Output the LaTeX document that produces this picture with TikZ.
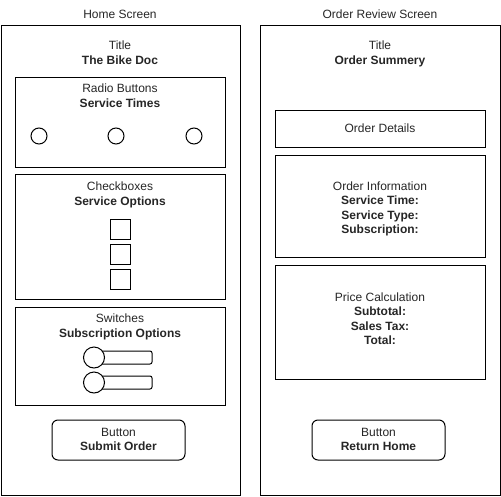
\documentclass[tikz,border=0pt]{standalone}
\usepackage{fontspec}
\setmainfont{Liberation Sans}
\begin{document}
\begin{tikzpicture}[x=1pt,y=-1pt,
  every node/.style={font=\fontsize{12}{14.5}\selectfont, inner sep=0pt, outer sep=0pt},
  screen/.style={draw=black, line width=1pt, minimum width=#1, minimum height=470pt},
  panel/.style={draw=black, line width=1pt, minimum width=210pt, minimum height=#1},
  lbl/.style={align=center, text=black!85},
  ml/.style={lbl, text depth=3pt, yshift=-1.5pt},
  btn/.style={draw=black, line width=1pt, rounded corners=6pt, minimum width=133pt, minimum height=40pt},
  radio/.style={draw=black, line width=1pt, circle, minimum size=16pt},
  chk/.style={draw=black, line width=1pt, minimum size=20pt},
  track/.style={draw=black, line width=1pt, rounded corners=2pt, minimum width=58pt, minimum height=13pt},
  knob/.style={draw=black, fill=white, line width=1pt, circle, minimum size=21pt}
]
\useasboundingbox (0,0) rectangle (501,496);
% screens
\node[screen=239pt] (home) at (120.5,260) {};
\node[screen=240pt] (review) at (380,260) {};
\node[lbl] (homehdr) at (120,14) {Home Screen};
\node[lbl] (revhdr) at (380,14) {Order Review Screen};
% home screen
\node[ml] (title1) at (120,52.5) {Title\\\textbf{The Bike Doc}};
\node[panel=90pt] (radiobox) at (120,122) {};
\node[ml] (radiotxt) at (120,95.5) {Radio Buttons\\\textbf{Service Times}};
\node[radio] (r1) at (39,136) {};
\node[radio] (r2) at (116,136) {};
\node[radio] (r3) at (194,136) {};
\node[panel=125pt] (chkbox) at (120,236.5) {};
\node[ml] (chktxt) at (120,193.5) {Checkboxes\\\textbf{Service Options}};
\node[chk] (c1) at (120,229) {};
\node[chk] (c2) at (120,254) {};
\node[chk] (c3) at (120,279) {};
\node[panel=98pt] (swbox) at (120,356) {};
\node[ml] (swtxt) at (120,325.5) {Switches\\\textbf{Subscription Options}};
\node[track] (t1) at (123,357.5) {};
\node[knob] (k1) at (94,357.5) {};
\node[track] (t2) at (123,382.5) {};
\node[knob] (k2) at (94,382.5) {};
\node[btn] (submit) at (118.5,440) {};
\node[ml] (submittxt) at (118.5,439.5) {Button\\\textbf{Submit Order}};
% review screen
\node[ml] (title2) at (380,52.5) {Title\\\textbf{Order Summery}};
\node[panel=37pt] (details) at (380,128.5) {};
\node[lbl] (detailstxt) at (380,128) {Order Details};
\node[panel=102pt] (info) at (380,206) {};
\node[ml] (infotxt) at (380,207.5) {Order Information\\\textbf{Service Time:}\\\textbf{Service Type:}\\\textbf{Subscription:}};
\node[panel=114pt] (price) at (380,322) {};
\node[ml] (pricetxt) at (380,318.5) {Price Calculation\\\textbf{Subtotal:}\\\textbf{Sales Tax:}\\\textbf{Total:}};
\node[btn] (ret) at (378.5,440) {};
\node[ml] (rettxt) at (378.5,439.5) {Button\\\textbf{Return Home}};
\end{tikzpicture}
\end{document}
